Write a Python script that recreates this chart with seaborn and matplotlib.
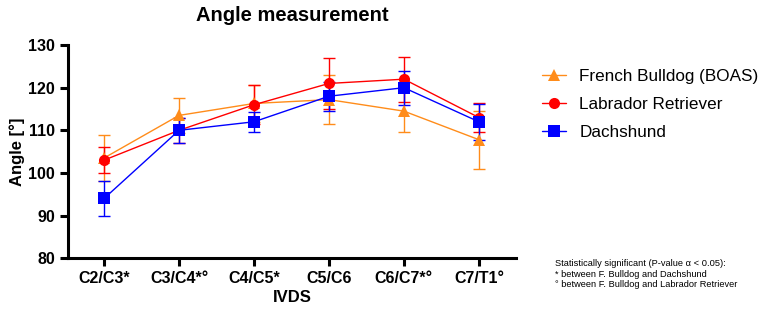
import pandas as pd
import seaborn as sns
import matplotlib.pyplot as plt

# Data (mean angle and SD per IVDS)
ivds = ['C2/C3*', 'C3/C4*°', 'C4/C5*', 'C5/C6', 'C6/C7*°', 'C7/T1°']
breeds = ['French Bulldog (BOAS)', 'Labrador Retriever', 'Dachshund']
bulldog_mean = [103.5, 113.5, 116.3, 117.2, 114.5, 107.8]
bulldog_sd = [5.3, 4.1, 4.3, 5.8, 5.0, 6.8]
labrador_mean = [103.0, 110.0, 116.0, 121.0, 122.0, 113.0]
labrador_sd = [3.0, 3.0, 4.6, 6.0, 5.3, 3.3]
dachshund_mean = [94.0, 110.0, 112.0, 118.0, 120.0, 112.0]
dachshund_sd = [4.0, 3.0, 2.4, 3.4, 4.0, 4.2]

means = [bulldog_mean, labrador_mean, dachshund_mean]
sds = [bulldog_sd, labrador_sd, dachshund_sd]
colors = {'French Bulldog (BOAS)': '#FF8C1A', 'Labrador Retriever': '#FF0000', 'Dachshund': '#0000FF'}
markers = {'French Bulldog (BOAS)': '^', 'Labrador Retriever': 'o', 'Dachshund': 's'}

rows = []
for b, m, s in zip(breeds, means, sds):
    for i, lab in enumerate(ivds):
        rows.append({'IVDS': lab, 'Angle': m[i], 'SD': s[i], 'Breed': b, 'pos': i})
df = pd.DataFrame(rows)

sns.set_style('ticks')
plt.rcParams['font.family'] = ['Liberation Sans', 'DejaVu Sans']
plt.rcParams['text.color'] = 'black'
plt.rcParams['axes.labelcolor'] = 'black'

fig = plt.figure(figsize=(7.65, 3.11), dpi=100)
ax = fig.add_axes([0.089, 0.17, 0.586, 0.685])

for b in breeds:
    d = df[df['Breed'] == b]
    ax.errorbar(d['pos'], d['Angle'], yerr=d['SD'], fmt='none', ecolor=colors[b],
                elinewidth=1, capsize=4, capthick=1, zorder=2)

sns.lineplot(data=df, x='pos', y='Angle', hue='Breed', style='Breed', hue_order=breeds,
             style_order=breeds, palette=colors, markers=markers, dashes=False,
             markersize=8, markeredgewidth=0, linewidth=1, errorbar=None, sort=False, ax=ax, zorder=3)

ax.set_xticks(range(len(ivds)))
ax.set_xticklabels(ivds, fontweight='bold', fontsize=11.5)
ax.set_xlim(-0.48, 5.5)
ax.set_ylim(80, 130)
ax.set_yticks([80, 90, 100, 110, 120, 130])
for t in ax.get_yticklabels():
    t.set_fontweight('bold')
    t.set_fontsize(11.5)
ax.tick_params(width=2.2, length=6, colors='black')
for sp in ['left', 'bottom']:
    ax.spines[sp].set_linewidth(2.2)
    ax.spines[sp].set_color('black')
sns.despine(ax=ax)

ax.set_title('Angle measurement', fontweight='bold', fontsize=14.5, pad=17, color='black')
ax.set_xlabel('IVDS', fontweight='bold', fontsize=12, labelpad=3)
ax.set_ylabel('Angle [°]', fontweight='bold', fontsize=12, labelpad=2)

leg = ax.legend(loc='center left', bbox_to_anchor=(1.022, 0.72), frameon=False,
                fontsize=12.3, handlelength=1.4, handletextpad=0.8, labelspacing=0.75)
for h in leg.legend_handles:
    h.set_markeredgewidth(0)

fig.text(0.725, 0.168, 'Statistically significant (P-value α < 0.05):\n'
         '* between F. Bulldog and Dachshund\n'
         '° between F. Bulldog and Labrador Retriever',
         fontsize=6.7, va='top', ha='left', linespacing=1.25)

fig.savefig('out.png', dpi=100)
